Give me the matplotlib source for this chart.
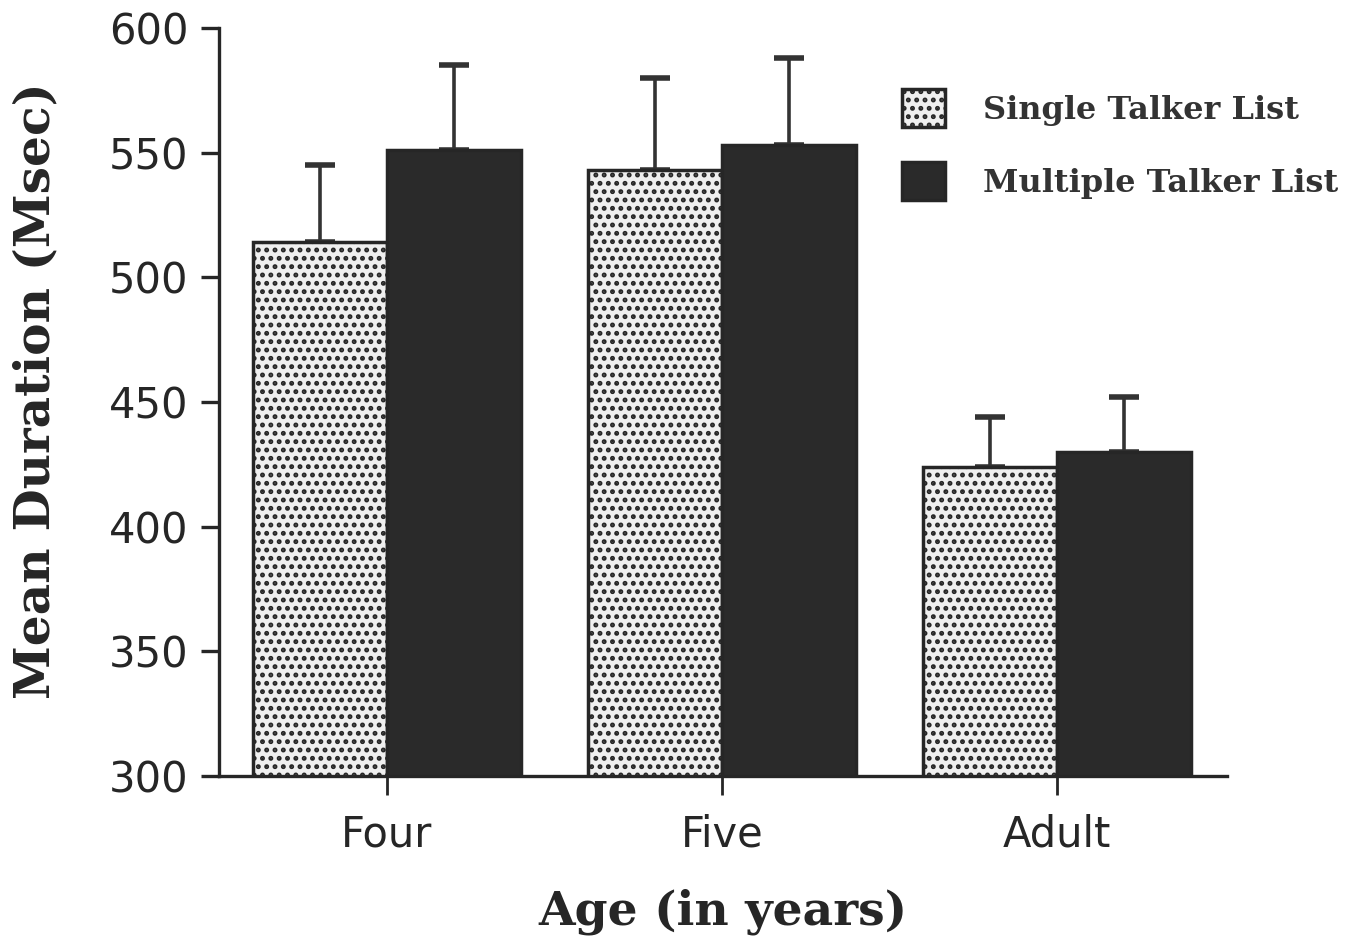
import numpy as np
import matplotlib
matplotlib.use("Agg")
import matplotlib.pyplot as plt

# mean durations (msec) by age group and list type
ages = ["Four", "Five", "Adult"]
single_talker = [514, 543, 424]
multiple_talker = [551, 553, 430]
single_err = [31, 37, 20]
multiple_err = [34, 35, 22]
yticks = [300, 350, 400, 450, 500, 550, 600]

plt.rcParams["hatch.color"] = "#7d7d7d"
plt.rcParams["hatch.linewidth"] = 2.3

ink = "#262626"
fig = plt.figure(figsize=(13.58, 9.48), dpi=100)
ax = fig.add_axes([0.1613, 0.1814, 0.7423, 0.7891])

x = np.arange(len(ages))
w = 0.40
ax.bar(x - w / 2, single_talker, w, color="#efefef", hatch="..",
       edgecolor=ink, linewidth=2.5, label="Single Talker List", zorder=2)
ax.bar(x + w / 2, multiple_talker, w, color="#2a2a2a",
       edgecolor=ink, linewidth=2.5, label="Multiple Talker List", zorder=2)

# upper error bars only
ax.errorbar(x - w / 2, single_talker, yerr=[np.zeros(3), single_err], fmt="none",
            ecolor="#333333", elinewidth=2.6, capsize=11, capthick=4, zorder=1)
ax.errorbar(x + w / 2, multiple_talker, yerr=[np.zeros(3), multiple_err], fmt="none",
            ecolor="#333333", elinewidth=2.6, capsize=11, capthick=4, zorder=1)

ax.set_xlim(-0.5, 2.507)
ax.set_ylim(300, 600)
ax.set_yticks(yticks)
ax.set_xticks(x)
ax.set_xticklabels(ages)

for s in ["top", "right"]:
    ax.spines[s].set_visible(False)
for s in ["left", "bottom"]:
    ax.spines[s].set_linewidth(2.4)
    ax.spines[s].set_color(ink)

ax.tick_params(axis="y", length=13, width=2.4, color=ink, pad=9,
               labelsize=30, labelcolor="#262626")
ax.tick_params(axis="x", length=14, width=2.0, color=ink, pad=13,
               labelsize=30, labelcolor="#262626")

ax.set_ylabel("Mean Duration (Msec)", family="DejaVu Serif", fontweight="bold",
              fontsize=35, color=ink)
ax.yaxis.set_label_coords(-0.158, 0.515)
ax.set_xlabel("Age (in years)", family="DejaVu Serif", fontweight="bold",
              fontsize=34, color=ink, labelpad=24)

leg = ax.legend(loc="upper left", bbox_to_anchor=(0.664, 0.906),
                bbox_transform=fig.transFigure, frameon=False,
                prop={"family": "DejaVu Serif", "weight": "bold", "size": 23},
                handlelength=1.35, handleheight=1.45, handletextpad=1.2,
                labelspacing=1.1, borderpad=0, borderaxespad=0)
for t in leg.get_texts():
    t.set_color("#333333")

fig.savefig("out.png", dpi=100, facecolor="white")
